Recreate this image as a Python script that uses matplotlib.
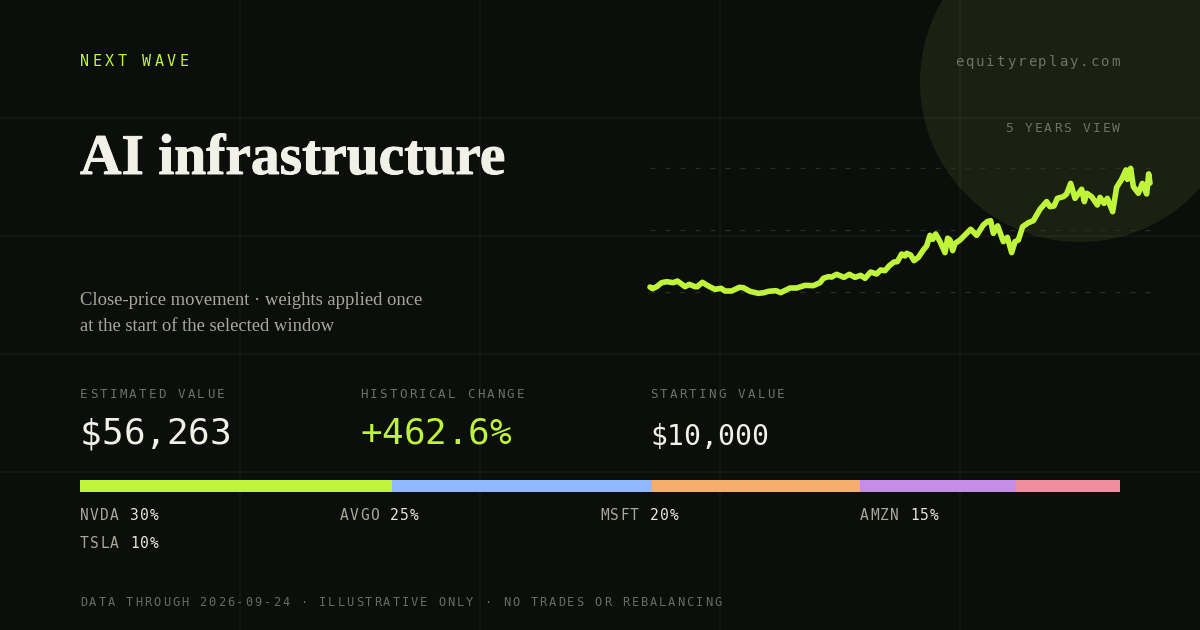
import matplotlib
matplotlib.use("Agg")
import matplotlib.pyplot as plt
import matplotlib.patheffects as pe
from matplotlib.patches import Circle
from matplotlib.text import Text

# ===============================
# DATA
# ===============================

# position in the 5 year window (%) and portfolio value ($ thousands)
window_pct = [0, 0.53, 1.33, 2.33, 3.33, 4.67, 5.47, 6.13, 7.0, 7.87, 9.0, 9.47, 10.47, 11.67, 13.0,
              14.2, 15.0, 16.33, 17.87, 18.67, 20.0, 21.67, 22.8, 23.67, 25.2, 26.13, 28.0, 29.33,
              31.0, 32.67, 34.0, 34.67, 35.67, 36.33, 37.33, 38.8, 39.87, 41.0, 42.13, 43.0, 44.13,
              45.33, 46.13, 47.0, 47.87, 48.8, 49.47, 50.33, 51.0, 51.33, 52.13, 52.8, 53.67, 54.67,
              55.33, 56.0, 56.53, 57.13, 58.0, 59.0, 59.53, 60.0, 60.53, 61.0, 62.0, 63.33, 64.13,
              65.33, 66.67, 67.47, 68.13, 68.67, 69.53, 70.67, 71.47, 72.33, 73.0, 73.67, 74.53,
              75.67, 76.67, 78.0, 79.33, 80.0, 80.8, 81.47, 82.67, 83.33, 84.13, 85.0, 86.33, 86.87,
              87.33, 88.33, 89.47, 90.0, 90.8, 91.47, 92.53, 93.33, 94.33, 95.2, 95.47, 96.13, 96.67,
              97.67, 98.47, 99.33, 99.73, 100]
value_k = [10.0, 9.26, 10.15, 11.93, 12.37, 11.93, 12.67, 11.63, 10.15, 11.19, 10.15, 10.15, 12.08,
           10.45, 8.96, 9.41, 8.22, 8.22, 9.85, 9.7, 8.07, 7.18, 7.48, 8.07, 8.37, 7.48, 9.56, 9.56,
           10.74, 10.6, 11.93, 13.86, 14.6, 14.45, 15.64, 14.3, 15.64, 14.3, 15.19, 13.86, 16.67,
           15.78, 17.57, 17.27, 19.49, 21.13, 21.27, 24.7, 23.8, 24.98, 24.24, 21.72, 23.2, 26.5,
           28.25, 33.0, 31.2, 33.6, 30.2, 25.3, 31.7, 30.9, 26.2, 29.4, 30.9, 33.9, 35.7,
           33.0, 37.6, 39.1, 39.5, 33.9, 37.2, 30.2, 32.1, 25.3, 30.2, 30.9, 36.85,
           38.6, 39.5, 44.6, 48.0, 45.75, 46.05, 49.45, 50.2, 51.4, 56.1, 49.45, 53.5, 48.0,
           51.7, 50.2, 46.5, 49.9, 47.2, 49.45, 43.5, 54.35, 57.9, 62.1, 57.9, 62.8, 54.65,
           51.7, 56.1, 51.4, 60.3, 56.26]
guide_levels = [7.78, 35.37, 62.95]

tickers = ["NVDA", "AVGO", "MSFT", "AMZN", "TSLA"]
weights = [30, 25, 20, 15, 10]
weight_colors = ["#BEF53A", "#8FB8FF", "#F4B06A", "#C58DE6", "#EE8E9E"]

stat_labels = ["ESTIMATED VALUE", "HISTORICAL CHANGE", "STARTING VALUE"]
stat_values = ["$56,263", "+462.6%", "$10,000"]

# ===============================
# STYLE
# ===============================

BG = "#0C0E0B"
LIME = "#BEF53A"
DIM = "#6E7167"
MONO = "DejaVu Sans Mono"
SERIF = "Liberation Serif"
PX = 0.72  # 1 px in points at dpi 100


class TrackedText(Text):
    """One text with letter spacing: step is the advance per character, in px."""

    def __init__(self, x, y, s, step, **kw):
        super().__init__(x, y, s, **kw)
        self.step = step

    def draw(self, renderer):
        s, x = self.get_text(), self.get_position()[0]
        for i, ch in enumerate(s):
            self.set_text(ch)
            self.set_x(x + i * self.step)
            super().draw(renderer)
        self.set_text(s)
        self.set_x(x)

    def get_window_extent(self, renderer=None, dpi=None):
        box = super().get_window_extent(renderer, dpi).frozen()
        box.x1 = box.x0 + len(self.get_text()) * self.step
        return box


def mono(x, y, s, size, color, step=None):
    t = TrackedText(x, y, s, step or size * 0.6, fontsize=size * PX, color=color,
                    family=MONO, ha="left", va="baseline")
    ax.add_artist(t)
    return t


# ===============================
# PLOTTING
# ===============================

fig = plt.figure(figsize=(12, 6.3), dpi=100, facecolor=BG)

# canvas axes in pixel units
ax = fig.add_axes([0, 0, 1, 1])
ax.set_xlim(0, 1200)
ax.set_ylim(630, 0)
ax.axis("off")

ax.add_patch(Circle((1080, 82), 160, facecolor="#1B2111", edgecolor="none", zorder=0))
for gx in [240, 480, 720, 960]:
    ax.axvline(gx, color="#FFFFFF", alpha=0.035, lw=2 * PX, zorder=1)
for gy in [118, 236, 354, 472]:
    ax.axhline(gy, color="#FFFFFF", alpha=0.035, lw=2 * PX, zorder=1)

mono(80, 66, "NEXT WAVE", 15, LIME, 12.4)
mono(955, 66, "equityreplay.com", 14, "#6F7268", 10.4)
mono(1005, 132, "5 YEARS VIEW", 13, DIM, 9.75)

title = ax.text(80, 174, "AI infrastructure", family=SERIF, weight="bold", fontsize=57.5 * PX,
                color="#F2F1E8", ha="left", va="baseline")
title.set_path_effects([pe.withStroke(linewidth=0.7, foreground="#F2F1E8")])
ax.text(80, 305, "Close-price movement · weights applied once", family=SERIF, fontsize=18.7 * PX,
        color="#A6A89B", ha="left", va="baseline")
ax.text(80, 331, "at the start of the selected window", family=SERIF, fontsize=18.7 * PX,
        color="#A6A89B", ha="left", va="baseline")

# stats
for sx, lab in zip([80, 360, 650], stat_labels):
    mono(sx, 398, lab, 12.5, DIM, 9.77)
mono(80, 444, stat_values[0], 36, "#F2F1E8")
mono(360, 444, stat_values[1], 36, LIME)
mono(650, 445, stat_values[2], 28, "#F2F1E8")

# legend under the bar
slots = [(80, 520), (340, 520), (600, 520), (860, 520), (80, 548)]
for (lx, ly), name, w in zip(slots, tickers, weights):
    mono(lx, ly, name, 14.5, "#A6A89B", 10)
    mono(lx + 50, ly, f"{w}%", 14.5, "#E8E8DF", 10)

mono(80, 606, "DATA THROUGH 2026-09-24 · ILLUSTRATIVE ONLY · NO TRADES OR REBALANCING", 12, "#696C63", 9.19)

# price line
chart = fig.add_axes([650 / 1200, 1 - 292 / 630, 500 / 1200, 124 / 630])
chart.patch.set_alpha(0)
chart.set_xlim(0, 100)
chart.set_ylim(guide_levels[0], guide_levels[-1])
chart.axis("off")
chart.hlines(guide_levels, 0, 100, color="#2A2E25", lw=1.3 * PX, linestyles=[(0, (5 / 1.3, 10 / 1.3))], clip_on=False)
chart.plot(window_pct, value_k, color=LIME, lw=5.6 * PX, solid_joinstyle="round", solid_capstyle="round", clip_on=False)

# weights bar
bar = fig.add_axes([80 / 1200, 1 - 492 / 630, 1040 / 1200, 12 / 630])
bar.set_xlim(0, sum(weights))
bar.set_ylim(0, 1)
bar.axis("off")
left = 0
for w, c in zip(weights, weight_colors):
    bar.barh(0.5, w, height=1, left=left, color=c, linewidth=0)
    left += w

fig.savefig("out.png", dpi=100, facecolor=BG)
